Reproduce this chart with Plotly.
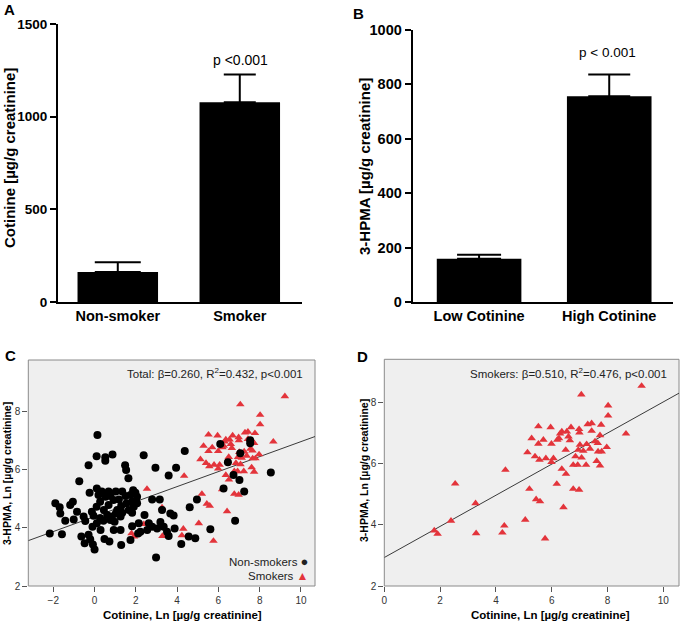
import plotly.graph_objects as go

W, H = 681, 622

# ---------------- Data ----------------
# Panel A
a_categories = ["Non-smoker", "Smoker"]
a_means = [162, 1078]
a_errors = [52, 150]
a_pvalue = "p <0.001"

# Panel B
b_categories = ["Low Cotinine", "High Cotinine"]
b_means = [159, 756]
b_errors = [15, 80]
b_pvalue = "p < 0.001"

# Smokers (Ln cotinine, Ln 3-HPMA)
smk_x = [9.22, 7.06, 8.02, 8.02, 8.66, 5.52, 5.96, 6.69, 6.98, 6.99, 7.29, 7.43, 7.77, 7.43,
         6.30, 6.26, 6.54, 6.60, 6.65, 7.73, 7.55, 7.65, 7.97, 7.79, 7.66, 5.52, 5.70, 5.28,
         5.99, 7.01, 7.25, 6.50, 7.13, 7.37, 6.85, 7.07, 6.77, 6.93, 7.23, 7.61, 7.73, 5.13,
         5.40, 5.79, 6.06, 5.99, 6.36, 6.51, 6.18, 4.34, 2.54, 5.20, 6.77, 6.98, 5.44, 5.58,
         6.42, 3.27, 2.39, 5.05, 4.30, 1.79, 1.91, 3.29, 4.23, 5.76, 5.56, 6.20, 6.95, 6.36]
smk_y = [8.53, 8.25, 7.89, 7.56, 6.97, 7.21, 7.18, 7.18, 7.12, 7.01, 7.28, 7.31, 7.26, 7.06,
         6.97, 6.82, 7.04, 6.88, 6.75, 6.92, 6.72, 6.66, 6.53, 6.39, 6.39, 6.64, 6.77, 6.82,
         6.64, 6.61, 6.63, 6.44, 6.41, 6.48, 6.23, 6.19, 5.95, 5.95, 5.95, 6.08, 5.93, 6.36,
         6.23, 6.17, 6.17, 6.04, 5.82, 5.66, 5.33, 5.79, 5.34, 5.17, 5.17, 5.14, 4.83, 4.76,
         4.57, 4.70, 4.13, 4.16, 3.97, 3.81, 3.70, 3.72, 3.74, 3.55, 6.12, 6.77, 6.44, 7.04]

# Non-smokers (Ln cotinine, Ln 3-HPMA)
non_x = [0.14, 0.10, 0.52, 0.52, 0.87, -0.29, 1.48, 1.53, 2.38, 2.95, 3.95, 4.37, 3.59, -0.74,
         1.64, -1.90, -1.69, -1.66, -1.18, -1.05, -1.42, -1.58, -2.17, -0.85, -1.01, -0.53,
         -0.13, -0.05, -0.45, 0.27, 0.43, 0.11, -0.10, -0.24, 0.11, 0.35, 0.68, 1.03, 0.19,
         0.27, 0.68, 0.92, 1.18, 1.50, 1.55, 1.82, 1.98, 2.06, 1.29, 1.10, 1.34, 1.66, 0.61,
         1.03, 0.84, 0.77, 0.97, 1.26, 1.82, 2.42, 1.82, 2.14, 2.63, 2.55, 2.22, 2.79, 3.03,
         3.19, 3.35, 3.51, 3.67, 3.83, 3.27, 3.16, 2.79, 3.88, 3.59, 4.20, 4.56, 4.88, 5.61,
         4.61, 4.96, 2.98, 1.29, 0.00, -0.08, -0.48, -0.29, -0.21, 0.48, 0.72, -0.64, 1.74,
         2.11, 6.09, 6.46, 6.25, 6.81, 7.25, 7.02, 7.54, 8.54, 7.06, 6.73, 7.54,
         0.53, 0.77, 1.34, 1.74, 0.10, 0.45, 1.90, 1.26, 0.93, 0.29, 1.87, 2.06]
non_y = [7.20, 6.47, 6.43, 6.31, 6.53, 6.16, 6.16, 5.99, 6.50, 6.07, 6.07, 6.65, 5.80, 5.61,
         5.71, 4.85, 4.71, 4.50, 4.79, 4.90, 4.25, 3.78, 3.81, 4.56, 4.29, 4.39, 4.56, 4.42,
         4.24, 4.33, 4.25, 4.16, 4.04, 5.21, 5.36, 5.25, 5.25, 5.25, 5.13, 4.90, 4.79, 4.96,
         4.98, 5.10, 4.85, 4.90, 5.21, 5.07, 4.75, 4.62, 4.52, 4.62, 4.44, 4.50, 4.39, 4.27,
         4.21, 4.39, 4.52, 4.44, 4.06, 4.16, 4.16, 3.93, 3.87, 4.04, 3.98, 4.20, 4.04, 3.87,
         4.50, 4.43, 4.62, 4.98, 4.98, 3.98, 3.72, 3.45, 3.70, 3.64, 3.95, 4.71, 4.98, 2.98,
         3.41, 3.26, 3.43, 3.47, 3.76, 3.61, 3.62, 3.53, 3.70, 3.58, 3.81, 6.89, 6.26, 5.36,
         4.25, 5.25, 5.65, 6.91, 5.91, 6.57, 5.82, 7.02,
         5.07, 5.10, 5.25, 5.13, 4.73, 4.62, 4.73, 3.93, 3.93, 3.93, 5.30, 4.85]

# Regression fits (intercept, slope) and stats text
c_fit = [4.39, 0.258]
d_fit = [2.93, 0.508]
c_stats = "Total: β=0.260, R<sup>2</sup>=0.432, p<0.001"
d_stats = "Smokers: β=0.510, R<sup>2</sup>=0.476, p<0.001"

scatter_yticks = [2, 4, 6, 8]
c_xticks = [-2, 0, 2, 4, 6, 8, 10]
d_xticks = [0, 2, 4, 6, 8, 10]

# ---------------- Styling ----------------
FONT = "Arial, Liberation Sans, Helvetica, sans-serif"
RED = "#e3343b"
PANEL_BG = "#efefef"

c_xrange = [-3.21, 10.68]
c_yrange = [2, 9.78]
d_xrange = [0, 10.56]
d_yrange = [2, 9.4]


def px(x):
    return x / W


def py(y):
    return 1 - y / H


fig = go.Figure()

# Panel A bars
a_halfcaps = [23, 16]
for cat, m, e, hc in zip(a_categories, a_means, a_errors, a_halfcaps):
    fig.add_trace(go.Bar(
        x=[cat], y=[m], width=0.66, marker=dict(color="black", line=dict(width=0)),
        error_y=dict(type="data", symmetric=False, array=[e], arrayminus=[0],
                     color="black", thickness=2, width=hc),
        xaxis="x", yaxis="y", showlegend=False))

# Panel B bars
b_halfcaps = [22, 21]
for cat, m, e, hc in zip(b_categories, b_means, b_errors, b_halfcaps):
    fig.add_trace(go.Bar(
        x=[cat], y=[m], width=0.65, marker=dict(color="black", line=dict(width=0)),
        error_y=dict(type="data", symmetric=False, array=[e], arrayminus=[0],
                     color="black", thickness=2, width=hc),
        xaxis="x2", yaxis="y2", showlegend=False))

# Panel C
fig.add_trace(go.Scatter(
    x=[c_xrange[0], c_xrange[1]],
    y=[c_fit[0] + c_fit[1] * c_xrange[0], c_fit[0] + c_fit[1] * c_xrange[1]],
    mode="lines", line=dict(color="#3a3a3a", width=1), xaxis="x3", yaxis="y3",
    showlegend=False, hoverinfo="skip"))
fig.add_trace(go.Scatter(
    x=smk_x, y=smk_y, mode="markers",
    marker=dict(symbol="triangle-up", size=7.5, color=RED, line=dict(width=0)),
    xaxis="x3", yaxis="y3", showlegend=False))
fig.add_trace(go.Scatter(
    x=non_x, y=non_y, mode="markers",
    marker=dict(symbol="circle", size=8, color="black", line=dict(width=0)),
    xaxis="x3", yaxis="y3", showlegend=False))

# Panel D
fig.add_trace(go.Scatter(
    x=[d_xrange[0], d_xrange[1]],
    y=[d_fit[0] + d_fit[1] * d_xrange[0], d_fit[0] + d_fit[1] * d_xrange[1]],
    mode="lines", line=dict(color="#3a3a3a", width=1), xaxis="x4", yaxis="y4",
    showlegend=False, hoverinfo="skip"))
fig.add_trace(go.Scatter(
    x=smk_x, y=smk_y, mode="markers",
    marker=dict(symbol="triangle-up", size=7.5, color=RED, line=dict(width=0)),
    xaxis="x4", yaxis="y4", showlegend=False))

bar_x_common = dict(showline=True, linecolor="black", linewidth=2, ticks="",
                    showgrid=False, zeroline=False, type="category", automargin=False,
                    tickfont=dict(family=FONT, size=14.5, color="black", weight="bold"))
bar_y_common = dict(showline=True, linecolor="black", linewidth=2, ticks="outside",
                    ticklen=6, tickwidth=2, tickcolor="black", showgrid=False,
                    zeroline=False, automargin=False)

sc_common = dict(showline=False, showgrid=False, zeroline=False, ticks="outside",
                 ticklen=5, tickwidth=1, tickcolor="#555", automargin=False,
                 ticklabeloverflow="allow",
                 tickfont=dict(family=FONT, size=10, color="#333"))

fig.update_layout(
    width=W, height=H,
    margin=dict(l=0, r=0, t=0, b=0, pad=0, autoexpand=False),
    paper_bgcolor="white", plot_bgcolor="rgba(0,0,0,0)",
    barmode="overlay",
    font=dict(family=FONT, color="black"),
    xaxis=dict(domain=[px(58), px(302)], anchor="y", range=[-0.49, 1.51],
               categoryorder="array", categoryarray=a_categories, **bar_x_common),
    yaxis=dict(domain=[py(302), py(24)], anchor="x", range=[0, 1500],
               tickvals=[0, 500, 1000, 1500],
               tickfont=dict(family=FONT, size=13.5, color="black", weight="bold"),
               **bar_y_common),
    xaxis2=dict(domain=[px(412.7), px(673)], anchor="y2", range=[-0.51, 1.49],
                categoryorder="array", categoryarray=b_categories, **bar_x_common),
    yaxis2=dict(domain=[py(302), py(30)], anchor="x2", range=[0, 1000],
                tickvals=[0, 200, 400, 600, 800, 1000],
                tickfont=dict(family=FONT, size=14.5, color="black", weight="bold"),
                **bar_y_common),
    xaxis3=dict(domain=[px(28.3), px(315)], anchor="y3", range=c_xrange,
                tickvals=c_xticks, **sc_common),
    yaxis3=dict(domain=[py(586), py(360)], anchor="x3", range=c_yrange,
                tickvals=scatter_yticks, **sc_common),
    xaxis4=dict(domain=[px(384.3), px(679)], anchor="y4", range=d_xrange,
                tickvals=d_xticks, **sc_common),
    yaxis4=dict(domain=[py(586), py(359.3)], anchor="x4", range=d_yrange,
                tickvals=scatter_yticks, **sc_common),
)

# Panel backgrounds / borders for scatter panels
for ax in ["x3", "x4"]:
    yax = "y" + ax[1:]
    fig.add_shape(type="rect", xref=ax + " domain", yref=yax + " domain",
                  x0=0, x1=1, y0=0, y1=1, fillcolor=PANEL_BG,
                  line=dict(color="#8a8a8a", width=1), layer="below")

anns = []


def ann(text, x, y, size, bold=False, color="black", xanchor="center",
        yanchor="middle", angle=0):
    anns.append(dict(text=text, x=px(x), y=py(y), xref="paper", yref="paper",
                     showarrow=False, xanchor=xanchor, yanchor=yanchor,
                     textangle=angle,
                     font=dict(family=FONT, size=size, color=color,
                               weight="bold" if bold else "normal")))


# Panel letters
ann("A", 9, 10, 15, bold=True)
ann("B", 358, 13, 15, bold=True)
ann("C", 10, 355, 15, bold=True)
ann("D", 362, 356, 15, bold=True)

# Bar axis titles
ann("Cotinine [µg/g creatinine]", 9, 158, 15, bold=True, angle=-90)
ann("3-HPMA [µg/g creatinine]", 364, 167, 15, bold=True, angle=-90)

# p-values
ann(a_pvalue, 240, 60, 14)
ann(b_pvalue, 607, 52, 13.5)

# Scatter axis titles
ann("3-HPMA, Ln [µg/g creatinine]", 7, 474, 10.5, bold=True, angle=-90)
ann("Cotinine, Ln [µg/g creatinine]", 183, 615, 11.5, bold=True)
ann("3-HPMA, Ln [µg/g creatinine]", 364, 471, 10.5, bold=True, angle=-90)
ann("Cotinine, Ln [µg/g creatinine]", 550, 615, 11.5, bold=True)

# Stats text
ann(c_stats, 305, 373, 11.5, color="#222", xanchor="right")
ann(d_stats, 669, 373, 11.5, color="#222", xanchor="right")

# Legend in panel C (text then symbol, as in the reference)
ann("Non-smokers <span style='font-size:13px'>●</span>", 310, 561, 11.5,
    color="#222", xanchor="right")
ann("Smokers <span style='font-size:12px;color:%s'>▲</span>" % RED, 310, 576, 11.5,
    color="#222", xanchor="right")

fig.update_layout(annotations=anns)

fig.write_html("out.html", config={"displayModeBar": False},
               post_script="document.body.style.margin='0';document.body.style.padding='0';")
